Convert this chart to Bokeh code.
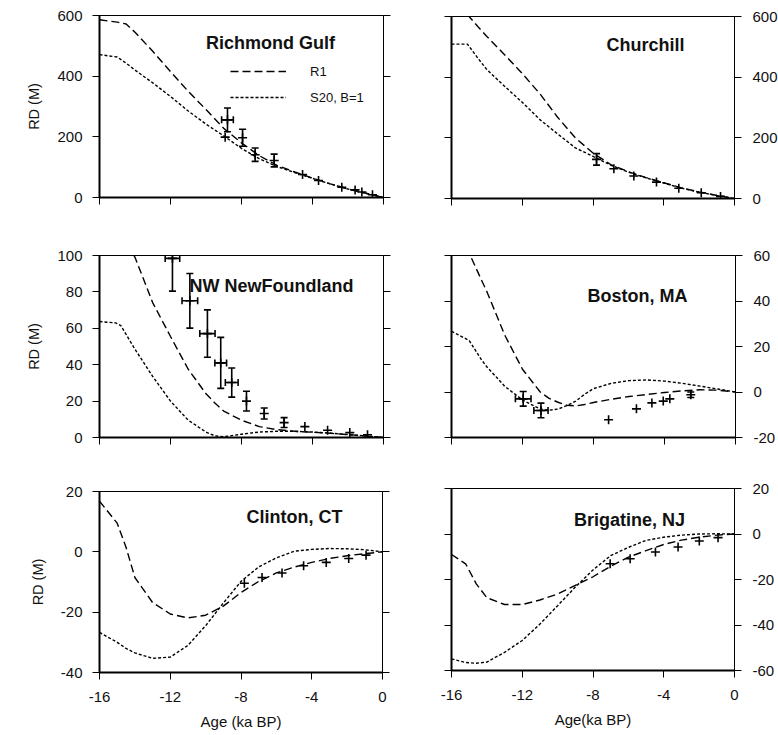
import numpy as np
from bokeh.plotting import figure
from bokeh.layouts import row, column
from bokeh.models import (LinearAxis, Range1d, FixedTicker, Label, Legend, LegendItem,
                          CustomLabelingPolicy)
from bokeh.embed import file_html
from bokeh.resources import INLINE

FONT = "Liberation Sans"
AGE_TICKS = [-16, -12, -8, -4, 0]
AGE_TICK_LABELS = ["-16", "-12", "-8", "-4", "0"]

# ---------------- Richmond Gulf ----------------
rg_ticks = [0, 200, 400, 600]
rg_grid = [-16, -15, -14.5, -14, -13, -12, -11, -10, -9, -8, -7, -6, -5, -4, -3, -2, -1, 0]
rg_r1 = [586, 578, 572, 545, 482, 415, 350, 290, 228, 180, 138, 106, 84, 64, 45, 28, 14, 0]
rg_s20 = [471, 463, 443, 420, 378, 333, 285, 242, 203, 162, 128, 102, 82, 63, 45, 28, 14, 0]
rg_age = [-8.79, -8.92, -7.94, -7.23, -6.16, -4.56, -3.66, -2.35, -1.60, -1.22, -0.62]
rg_rd = [256, 199, 197, 141, 122, 76, 56, 34, 25, 18, 9]
rg_age_err = [0.33, 0, 0, 0, 0, 0, 0, 0, 0, 0, 0]
rg_rd_err = [39, 0, 28, 22, 21, 0, 0, 0, 0, 0, 0]

# ---------------- Churchill ----------------
ch_ticks = [0, 200, 400, 600]
ch_grid = [-16, -15.1, -14.5, -14, -13, -12, -11, -10, -9, -8, -7, -6, -5, -4, -3, -2, -1, 0]
ch_r1 = [666, 606, 566, 534, 474, 412, 345, 268, 200, 150, 112, 88, 69, 52, 35, 22, 10, 0]
ch_s20 = [509, 509, 462, 425, 370, 317, 260, 213, 167, 139, 110, 87, 68, 51, 34, 21, 10, 0]
ch_age = [-7.80, -6.82, -5.69, -4.41, -3.15, -1.88, -0.79]
ch_rd = [129, 98, 74, 54, 34, 19, 7]
ch_age_err = [0, 0, 0, 0, 0, 0, 0]
ch_rd_err = [19, 0, 0, 0, 0, 0, 0]

# ---------------- NW NewFoundland ----------------
nf_ticks = [0, 20, 40, 60, 80, 100]
nf_grid = [-16, -15.1, -14.8, -14, -13, -12, -11, -10, -9.5, -9, -8, -7, -6, -5, -4, -3, -2, -1, 0]
nf_r1 = [135, 118, 113, 99, 74, 55.5, 37.5, 24, 19, 14.5, 9.5, 6, 4.3, 3.4, 2.9, 2.3, 1.6, 0.8, 0]
nf_s20 = [63.7, 63, 61.5, 48.5, 33.5, 20, 9.5, 3, 0.9, 0.4, 1.8, 3, 3.4, 3.4, 3.0, 2.4, 1.6, 0.9, 0]
nf_age = [-11.89, -10.91, -9.92, -9.17, -8.55, -7.72, -6.72, -5.60, -4.43, -3.15, -1.90, -0.90]
nf_rd = [98.4, 75.1, 57.1, 41, 30.2, 20, 13.2, 8.2, 6, 4, 2.7, 1.5]
nf_age_err = [0.41, 0.44, 0.43, 0.33, 0.36, 0, 0, 0, 0, 0, 0, 0]
nf_rd_err = [18, 15, 13, 14, 8, 5.4, 3, 2.7, 0, 0, 0, 0]

# ---------------- Boston, MA ----------------
bo_ticks = [-20, 0, 20, 40, 60]
bo_tick_labels = ["-20", "0", "20", "40", "60"]
bo_grid = [-16, -15, -14.3, -14, -13, -12, -11, -10.5, -10, -9.5, -9, -8.5, -8, -7, -6, -5, -4, -3, -2, -1, 0]
bo_r1 = [78, 61, 49, 44, 25, 10, 0, -2.8, -4.5, -5.8, -6.1, -5.5, -4.6, -3.2, -2, -1.1, -0.2, 0.5, 1.0, 0.8, 0]
bo_s20 = [26.7, 22.6, 14, 11, 2.5, -3.5, -7.5, -8, -7.5, -6, -4, -1, 1.5, 3.8, 5, 5.3, 4.8, 3.8, 2.6, 1.3, 0]
bo_age = [-11.96, -10.96, -7.15, -5.58, -4.71, -4.07, -3.70, -2.52]
bo_rd = [-3.0, -8.1, -12.2, -7.4, -4.8, -4.0, -3.0, -1.2]
bo_age_err = [0.44, 0.40, 0, 0, 0, 0, 0, 0]
bo_rd_err = [3.2, 3.2, 0, 0, 0, 0, 0, 1.2]

# ---------------- Clinton, CT ----------------
cl_ticks = [-40, -20, 0, 20]
cl_tick_labels = ["-40", "-20", "0", "20"]
cl_grid = [-16, -15, -14.5, -14, -13, -12, -11, -10, -9, -8, -7, -6, -5, -4, -3, -2, -1, 0]
cl_r1 = [16.8, 9.5, 1.5, -8.5, -16.8, -20.6, -21.9, -21, -18, -13.5, -9.8, -7.0, -5.1, -3.5, -2.2, -1.3, -0.6, 0]
cl_s20 = [-26.7, -30, -32, -33.5, -35.3, -34.9, -31, -24.5, -17, -9.8, -5, -2, 0.2, 0.8, 1.1, 1.0, 0.7, 0]
cl_age = [-7.81, -6.81, -5.68, -4.46, -3.18, -1.91, -0.93]
cl_rd = [-10.4, -8.5, -7.0, -4.6, -3.5, -2.2, -1.1]
cl_age_err = [0, 0, 0, 0, 0, 0, 0]
cl_rd_err = [0, 0, 0, 0, 0, 0, 0]

# ---------------- Brigatine, NJ ----------------
bg_ticks = [-60, -40, -20, 0, 20]
bg_tick_labels = ["-60", "-40", "-20", "0", "20"]
bg_grid = [-16, -15.2, -14.6, -14, -13, -12, -11, -10, -9, -8, -7, -6, -5, -4, -3, -2, -1, 0]
bg_r1 = [-9, -13.1, -21.9, -28, -31, -31, -29, -26.4, -22.6, -18.8, -14.2, -10.2, -7.3, -4.6, -2.7, -1.4, -0.5, 0]
bg_s20 = [-54.9, -56.5, -56.8, -56.3, -52, -46.8, -39.6, -31.5, -23.3, -15.8, -9.5, -5.9, -2.8, -1.4, -0.5, 0, 0.1, 0]
bg_age = [-7.03, -5.90, -4.47, -3.19, -1.99, -0.93]
bg_rd = [-13.1, -10.9, -7.9, -5.7, -3.1, -1.6]
bg_age_err = [0, 0, 0, 0, 0, 0]
bg_rd_err = [0, 0, 0, 0, 0, 0]


def style_axis(ax, labels, lw, standoff=10):
    ax.axis_line_color = "black"
    ax.axis_line_width = lw
    ax.major_tick_line_color = "black"
    ax.major_tick_line_width = 1
    ax.major_tick_out = 7
    ax.major_tick_in = 0
    ax.minor_tick_line_color = None
    ax.major_label_text_font = FONT
    ax.major_label_text_color = "#111111"
    ax.axis_label_text_font = FONT
    ax.axis_label_text_font_style = "normal"
    ax.axis_label_text_color = "#111111"
    if labels:
        ax.major_label_text_font_size = "15px"
        ax.major_label_standoff = standoff
    else:
        ax.major_label_text_font_size = "1px"
        ax.major_label_standoff = 0
        ax.major_label_policy = CustomLabelingPolicy(code="return []")


def panel(name, side, ylim, yticks, ytick_labels, grid, r1, s20, age, rd, age_err, rd_err,
          fw, fh, mb, title_xy, xlabel=None, ylabel=None, legend=False):
    l, r, t, b = mb
    p = figure(frame_width=fw, frame_height=fh,
               x_range=Range1d(-16, 0), y_range=Range1d(*ylim),
               output_backend="svg", toolbar_location=None,
               x_axis_location=None, y_axis_location=None,
               min_border_left=l, min_border_right=r,
               min_border_top=t, min_border_bottom=b)
    p.grid.visible = False
    p.outline_line_color = "black"
    p.outline_line_width = 1
    p.background_fill_color = "white"
    p.border_fill_color = "white"

    xa = LinearAxis(ticker=FixedTicker(ticks=AGE_TICKS))
    style_axis(xa, xlabel is not None, 2, standoff=12)
    if xlabel:
        xa.major_label_overrides = dict(zip(AGE_TICKS, AGE_TICK_LABELS))
        xa.axis_label = xlabel
        xa.axis_label_text_font_size = "15px"
        xa.axis_label_standoff = 8
    p.add_layout(xa, "below")

    ya_lab = LinearAxis(ticker=FixedTicker(ticks=yticks))
    ya_tick = LinearAxis(ticker=FixedTicker(ticks=yticks))
    if side == "left":
        style_axis(ya_lab, True, 2, standoff=10)
        style_axis(ya_tick, False, 1)
        if ylabel:
            ya_lab.axis_label = ylabel
            ya_lab.axis_label_text_font_size = "14.5px"
            ya_lab.axis_label_standoff = 12
        p.add_layout(ya_lab, "left")
        p.add_layout(ya_tick, "right")
    else:
        style_axis(ya_lab, True, 1, standoff=11)
        style_axis(ya_tick, False, 2)
        p.add_layout(ya_tick, "left")
        p.add_layout(ya_lab, "right")
    ya_lab.major_label_overrides = dict(zip(yticks, ytick_labels))

    lr1 = p.line(grid, r1, line_color="black", line_width=1.4, line_dash="8 4")
    ls20 = p.line(grid, s20, line_color="black", line_width=1.4, line_dash="3 2")

    age_a = np.array(age, dtype=float)
    rd_a = np.array(rd, dtype=float)
    ae = np.array(age_err, dtype=float)
    re = np.array(rd_err, dtype=float)

    p.scatter(age_a, rd_a, marker="cross", size=9, line_color="black", line_width=1.6)
    mv = re > 0
    if mv.any():
        p.segment(age_a[mv], rd_a[mv] - re[mv], age_a[mv], rd_a[mv] + re[mv],
                  line_color="black", line_width=1.6)
        p.scatter(np.concatenate([age_a[mv], age_a[mv]]),
                  np.concatenate([rd_a[mv] - re[mv], rd_a[mv] + re[mv]]),
                  marker="dash", size=7, line_color="black", line_width=1.6)
    mh = ae > 0
    if mh.any():
        p.segment(age_a[mh] - ae[mh], rd_a[mh], age_a[mh] + ae[mh], rd_a[mh],
                  line_color="black", line_width=1.6)
        p.scatter(np.concatenate([age_a[mh] - ae[mh], age_a[mh] + ae[mh]]),
                  np.concatenate([rd_a[mh], rd_a[mh]]),
                  marker="dash", angle=np.pi / 2, size=7, line_color="black", line_width=1.6)

    p.add_layout(Label(x=title_xy[0], y=fh - title_xy[1], x_units="screen", y_units="screen",
                       text=name, text_font=FONT, text_font_style="bold",
                       text_font_size="18px", text_align="center",
                       text_baseline="middle", text_color="#111111"))

    if legend:
        lg = Legend(items=[LegendItem(label="R1", renderers=[lr1]),
                           LegendItem(label="S20, B=1", renderers=[ls20])],
                    location=(131, fh - 92), glyph_width=56, glyph_height=20,
                    label_height=20, spacing=6, label_standoff=24, padding=0,
                    margin=0, border_line_color=None, background_fill_alpha=0,
                    label_text_font=FONT, label_text_font_size="13px",
                    label_text_color="#111111")
        p.add_layout(lg)
    return p


p1 = panel("Richmond Gulf", "left", (0, 600), rg_ticks, [str(v) for v in rg_ticks],
           rg_grid, rg_r1, rg_s20, rg_age, rg_rd, rg_age_err, rg_rd_err,
           284, 182, (97, 17, 15, 41), (171, 27), ylabel="RD (M)", legend=True)
p3 = panel("NW NewFoundland", "left", (0, 100), nf_ticks, [str(v) for v in nf_ticks],
           nf_grid, nf_r1, nf_s20, nf_age, nf_rd, nf_age_err, nf_rd_err,
           284, 182, (97, 17, 17, 33), (172, 30), ylabel="RD (M)")
p5 = panel("Clinton, CT", "left", (-40, 20), cl_ticks, cl_tick_labels,
           cl_grid, cl_r1, cl_s20, cl_age, cl_rd, cl_age_err, cl_rd_err,
           283, 181, (99, 16, 21, 55), (195, 25), xlabel="Age (ka BP)", ylabel="RD (M)")

p2 = panel("Churchill", "right", (0, 600), ch_ticks, [str(v) for v in ch_ticks],
           ch_grid, ch_r1, ch_s20, ch_age, ch_rd, ch_age_err, ch_rd_err,
           283, 182, (53, 45, 16, 40), (194, 28))
p4 = panel("Boston, MA", "right", (-20, 60), bo_ticks, bo_tick_labels,
           bo_grid, bo_r1, bo_s20, bo_age, bo_rd, bo_age_err, bo_rd_err,
           284, 182, (51, 44, 17, 31), (186, 40))
p6 = panel("Brigatine, NJ", "right", (-60, 20), bg_ticks, bg_tick_labels,
           bg_grid, bg_r1, bg_s20, bg_age, bg_rd, bg_age_err, bg_rd_err,
           283, 182, (48, 48, 20, 57), (178, 31), xlabel="Age(ka BP)")

layout = row(column(p1, p3, p5), column(p2, p4, p6))

with open("out.html", "w") as f:
    f.write(file_html(layout, INLINE))
